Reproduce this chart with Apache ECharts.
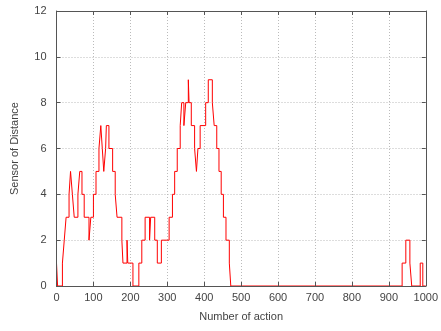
<!DOCTYPE html>
<html>
<head>
<meta charset="utf-8">
<script src="https://cdn.jsdelivr.net/npm/echarts@6/dist/echarts.min.js"></script>
<style>
html,body{margin:0;padding:0;background:#fff;}
#chart{width:441px;height:331px;}
</style>
</head>
<body>
<div id="chart"></div>
<script>
// Step change points: at actionX the sensor value becomes distanceY
const actionX = [0, 3, 16, 21, 26, 34, 38, 43, 48, 58, 63, 69, 75, 88, 93, 100, 107, 115, 120, 124, 128, 133, 135, 142, 152, 159, 164, 177, 180, 191, 193, 207, 223, 231, 240, 252, 255, 266, 273, 284, 305, 314, 320, 327, 335, 339, 345, 350, 357, 359, 365, 374, 379, 383, 389, 404, 411, 422, 427, 434, 440, 446, 452, 459, 468, 472, 936, 946, 957, 962, 985, 992, 1000];
const distanceY = [1, 0, 1, 2, 3, 4, 5, 4, 3, 4, 5, 4, 3, 2, 3, 4, 5, 6, 7, 6, 5, 6, 7, 6, 5, 4, 3, 2, 1, 2, 1, 0, 1, 2, 3, 2, 3, 2, 1, 2, 3, 4, 5, 6, 7, 8, 7, 8, 9, 8, 7, 6, 5, 6, 7, 8, 9, 8, 7, 6, 5, 4, 3, 2, 1, 0, 1, 2, 1, 0, 1, 0, 0];
const xTicks = { min: 0, max: 1000, interval: 100 };
const yTicks = { min: 0, max: 12, interval: 2 };

const chart = echarts.init(document.getElementById('chart'), null, { renderer: 'canvas' });
const font = 'Liberation Sans';
const labelColor = '#444';
const borderColor = '#555';
const gridLine = { show: true, lineStyle: { color: '#bbb', type: [1, 2], width: 1 } };
const tick = { show: true, inside: true, length: 4, lineStyle: { color: borderColor } };
const axisLine = { show: true, onZero: false, lineStyle: { color: borderColor } };

const seriesData = actionX.map((x, i) => [x, distanceY[i]]);

chart.setOption({
  animation: false,
  backgroundColor: '#fff',
  grid: { left: 56.5, right: 14, top: 11, bottom: 45, show: false },
  xAxis: [{
    type: 'value', min: xTicks.min, max: xTicks.max, interval: xTicks.interval, z: 10,
    name: 'Number of action', nameLocation: 'middle', nameGap: 25,
    nameTextStyle: { fontFamily: font, fontSize: 11, color: labelColor },
    axisLine: axisLine,
    axisTick: tick,
    axisLabel: { fontFamily: font, fontSize: 11, color: labelColor, margin: 6, formatter: v => String(v) },
    splitLine: { show: false }
  }, {
    type: 'value', position: 'top', min: xTicks.min, max: xTicks.max, interval: xTicks.interval, z: 10,
    axisLine: axisLine,
    axisTick: tick,
    axisLabel: { show: false }, splitLine: { show: false }
  }, {
    type: 'value', position: 'bottom', min: xTicks.min, max: xTicks.max, interval: xTicks.interval, z: 1,
    axisLine: { show: false }, axisTick: { show: false },
    axisLabel: { show: false }, splitLine: gridLine
  }],
  yAxis: [{
    type: 'value', min: yTicks.min, max: yTicks.max, interval: yTicks.interval, z: 10,
    name: 'Sensor of Distance', nameLocation: 'middle', nameGap: 36,
    nameTextStyle: { fontFamily: font, fontSize: 11, color: labelColor },
    axisLine: axisLine,
    axisTick: tick,
    axisLabel: { fontFamily: font, fontSize: 11, color: labelColor, margin: 10 },
    splitLine: { show: false }
  }, {
    type: 'value', position: 'right', min: yTicks.min, max: yTicks.max, interval: yTicks.interval, z: 10,
    axisLine: axisLine,
    axisTick: tick,
    axisLabel: { show: false }, splitLine: { show: false }
  }, {
    type: 'value', position: 'left', min: yTicks.min, max: yTicks.max, interval: yTicks.interval, z: 1,
    axisLine: { show: false }, axisTick: { show: false },
    axisLabel: { show: false }, splitLine: gridLine
  }],
  series: [{
    type: 'line', step: 'end', data: seriesData,
    showSymbol: false, symbol: 'none',
    lineStyle: { color: '#ff0000', width: 1 },
    z: 3
  }]
});
</script>
</body>
</html>
